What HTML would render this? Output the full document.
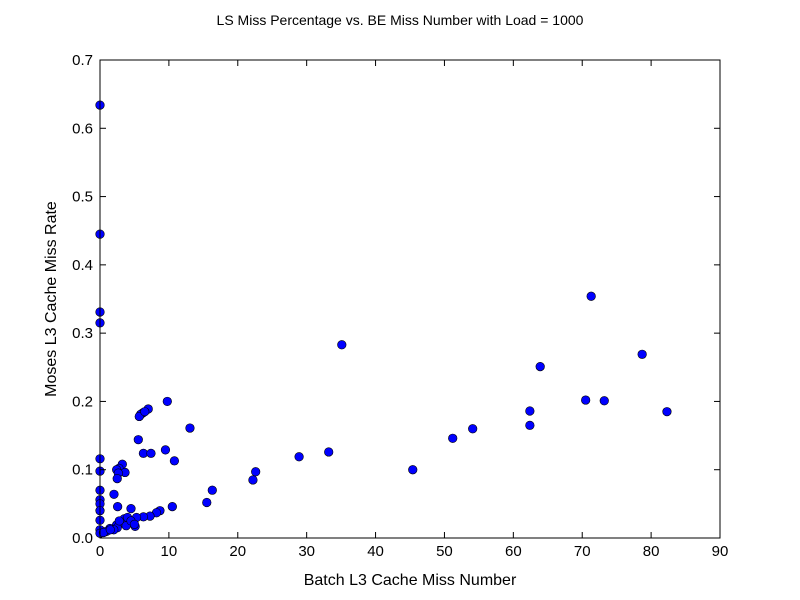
<!DOCTYPE html>
<html><head><meta charset="utf-8">
<style>
body{margin:0;background:#fff;}
svg{display:block;font-family:"Liberation Sans","DejaVu Sans",sans-serif;}
</style></head>
<body>
<svg id="chart" width="800" height="600"></svg>
<script>
const xVals=[0,0,0,0,0,0,0,0,0,0,0,0,0,
9.77,6.2,5.9,5.7,7.0,6.5,13.06,5.56,6.3,7.4,9.5,10.8,3.24,2.76,2.42,3.63,2.66,2.5,2.03,2.56,4.5,16.3,15.5,10.5,
8.7,8.2,7.26,6.3,5.3,4.35,3.4,2.4,1.45,0.73,5.1,
3.0,3.5,4.0,2.5,2.0,1.0,0.5,3.8,4.5,5.0,1.5,2.8,
35.1,71.3,63.9,78.7,70.5,73.2,82.3,62.4,62.4,54.1,51.2,45.4,33.2,28.9,22.6,22.2];
const yVals=[0.634,0.445,0.331,0.315,0.116,0.098,0.070,0.056,0.05,0.04,0.026,0.012,0.007,
0.200,0.183,0.181,0.178,0.189,0.185,0.161,0.144,0.124,0.124,0.129,0.113,0.108,0.102,0.1,0.096,0.095,0.087,0.064,0.046,0.043,0.070,0.052,0.046,
0.040,0.037,0.032,0.031,0.030,0.026,0.024,0.019,0.014,0.009,0.017,
0.022,0.028,0.030,0.015,0.012,0.010,0.008,0.018,0.025,0.020,0.012,0.025,
0.283,0.354,0.251,0.269,0.202,0.201,0.185,0.186,0.165,0.160,0.146,0.100,0.126,0.119,0.097,0.085];
const xTicks=[0,10,20,30,40,50,60,70,80,90];
const yTicks=[0.0,0.1,0.2,0.3,0.4,0.5,0.6,0.7];
const L=100,R=720,T=60,B=538;
const sx=v=>L+(v-0)/(90-0)*(R-L);
const sy=v=>B-(v-0)/(0.7-0)*(B-T);
const svg=document.getElementById('chart');
const NS='http://www.w3.org/2000/svg';
function mk(tag,attrs,parent){const e=document.createElementNS(NS,tag);for(const k in attrs)e.setAttribute(k,attrs[k]);(parent||svg).appendChild(e);return e;}
const title=mk('text',{x:400,y:25,'text-anchor':'middle','font-size':14});
title.textContent='LS Miss Percentage vs. BE Miss Number with Load = 1000';


const pts=mk('g',{});


for(let i=0;i<xVals.length;i++){
  const c=mk('circle',{cx:sx(xVals[i]),cy:sy(yVals[i]),r:4.3,fill:'#0000ff',stroke:'#000','stroke-width':0.6},pts);
  
  
}
const frame=mk('rect',{x:L,y:T,width:R-L,height:B-T,fill:'none',stroke:'#000','stroke-width':1});


const xg=mk('g',{});


xTicks.forEach(t=>{const x=sx(t);
  mk('line',{x1:x,x2:x,y1:B,y2:B-6,stroke:'#000'},xg);
  mk('line',{x1:x,x2:x,y1:T,y2:T+6,stroke:'#000'},xg);
  const tx=mk('text',{x:x,y:B+18,'text-anchor':'middle','font-size':15},xg);
  tx.textContent=t;
  
  
});
const yg=mk('g',{});


yTicks.forEach(t=>{const y=sy(t);
  mk('line',{x1:L,x2:L+6,y1:y,y2:y,stroke:'#000'},yg);
  mk('line',{x1:R,x2:R-6,y1:y,y2:y,stroke:'#000'},yg);
  const tx=mk('text',{x:L-7,y:y+5,'text-anchor':'end','font-size':15},yg);
  tx.textContent=t.toFixed(1);
  
  
});
const xl=mk('text',{x:410,y:585,'text-anchor':'middle','font-size':16});
xl.textContent='Batch L3 Cache Miss Number';


const yl=mk('text',{x:0,y:0,'text-anchor':'middle','font-size':16,transform:'translate(56,299) rotate(-90)'});
yl.textContent='Moses L3 Cache Miss Rate';


</script>
</body></html>
